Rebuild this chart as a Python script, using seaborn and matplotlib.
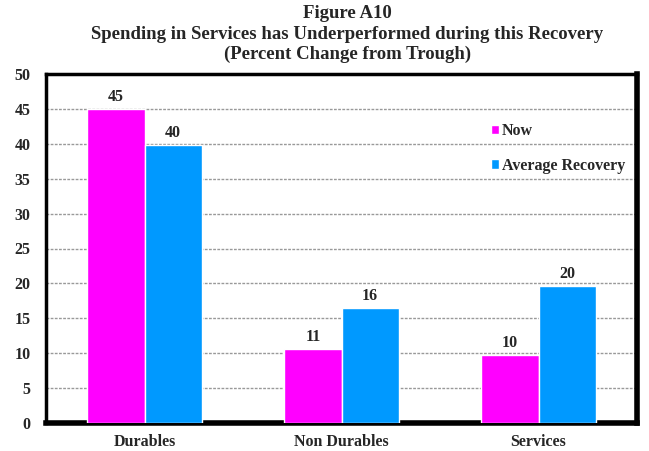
import matplotlib
matplotlib.use("Agg")
import matplotlib.pyplot as plt
import seaborn as sns
import pandas as pd

categories = ["Durables", "Non Durables", "Services"]
now_vals = [45.0, 10.6, 9.7]
avg_vals = [39.8, 16.5, 19.6]
now_labels = ["45", "11", "10"]
avg_labels = ["40", "16", "20"]
series = ["Now", "Average Recovery"]
colors = ["#FF00FF", "#0099FF"]

df = pd.DataFrame({
    "cat": categories * 2,
    "val": now_vals + avg_vals,
    "series": [series[0]] * 3 + [series[1]] * 3,
})

sns.set_style("white")
plt.rcParams['font.family'] = ['Liberation Serif', 'DejaVu Serif']
plt.rcParams['font.weight'] = 'bold'

fig = plt.figure(figsize=(6.49, 4.51), dpi=100)
ax = fig.add_axes([46/649, 1 - 423/451, (637-46)/649, (423-74)/451])

sns.barplot(data=df, x="cat", y="val", hue="series", palette=colors,
            width=0.58, saturation=1, ax=ax, zorder=3, legend=True)

ax.set_ylim(0, 50)
ax.set_xlim(-0.5, 2.5)
ax.set_yticks(range(0, 51, 5))
ax.yaxis.grid(True, color="#999999", linestyle=(0, (2, 1)), linewidth=1.0, zorder=0)
ax.set_axisbelow(True)
ax.set_xlabel("")
ax.set_ylabel("")
ax.tick_params(axis="y", length=0, labelsize=11.5, pad=11)
ax.tick_params(axis="x", length=0, labelsize=11.5, pad=8)
for lbl in ax.get_xticklabels() + ax.get_yticklabels():
    lbl.set_fontweight("bold")

for c, labels in zip(ax.containers, [now_labels, avg_labels]):
    ax.bar_label(c, labels=labels, padding=3, fontsize=11.5, fontweight="bold")

for side in ["left", "top"]:
    ax.spines[side].set_linewidth(2.5)
    ax.spines[side].set_color("black")
for side in ["right", "bottom"]:
    ax.spines[side].set_linewidth(4)
    ax.spines[side].set_color("black")

leg = ax.legend(loc="upper left", bbox_to_anchor=(0.728, 0.90), frameon=False,
                handlelength=0.55, handleheight=0.55, handletextpad=0.15,
                labelspacing=1.15, prop={"weight": "bold", "size": 11.5})

fig.text(0.535, 0.988, "Figure A10\nSpending in Services has Underperformed during this Recovery\n(Percent Change from Trough)",
         ha="center", va="top", fontsize=13.5, fontweight="bold", linespacing=1.25)

fig.savefig("out.png", dpi=100)
